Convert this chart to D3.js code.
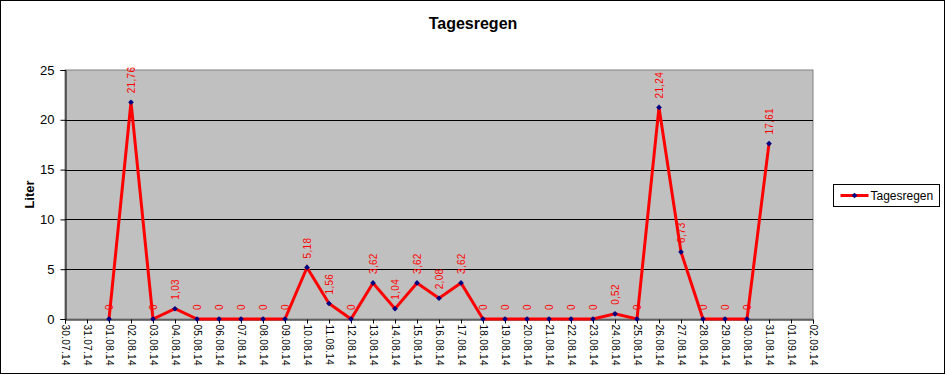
<!DOCTYPE html>
<html lang="de">
<head>
  <meta charset="UTF-8" />
  <title>Tagesregen</title>
  <script src="https://d3js.org/d3.v7.min.js"></script>
  <style>
    body { margin: 0; background: #fff; font-family: Arial, 'Liberation Sans', sans-serif; }
    svg { display: block; }
  </style>
</head>
<body>
<div id="chart"></div>
<script>
// categories: first and last day on the date axis, and the days that have values
const axisStart = "30.07.14";
const axisEnd = "02.09.14";
const days = [
  "01.08.14","02.08.14","03.08.14","04.08.14","05.08.14","06.08.14","07.08.14","08.08.14",
  "09.08.14","10.08.14","11.08.14","12.08.14","13.08.14","14.08.14","15.08.14","16.08.14",
  "17.08.14","18.08.14","19.08.14","20.08.14","21.08.14","22.08.14","23.08.14","24.08.14",
  "25.08.14","26.08.14","27.08.14","28.08.14","29.08.14","30.08.14","31.08.14"
];
const tagesregen = [
  0, 21.76, 0, 1.03, 0, 0, 0, 0,
  0, 5.18, 1.56, 0, 3.62, 1.04, 3.62, 2.08,
  3.62, 0, 0, 0, 0, 0, 0, 0.52,
  0, 21.24, 6.73, 0, 0, 0, 17.61
];
const yTicks = [0, 5, 10, 15, 20, 25];

const W = 946, H = 375;
const m = { left: 65, top: 70, right: 133, bottom: 56 };
const pw = W - m.left - m.right, ph = H - m.top - m.bottom;

const parse = d3.timeParse("%d.%m.%y");
const fmt = d3.timeFormat("%d.%m.%y");
const data = days.map((d, i) => ({ date: parse(d), value: tagesregen[i] }));

const svg = d3.select("#chart").append("svg").attr("width", W).attr("height", H);

svg.append("rect").attr("x", 0.5).attr("y", 0.5).attr("width", W - 2).attr("height", H - 2)
  .attr("fill", "#fff").attr("stroke", "#000").attr("stroke-width", 1);

svg.append("text").attr("x", 473).attr("y", 29).attr("text-anchor", "middle")
  .style("font-size", "16px").style("font-weight", "bold").text("Tagesregen");

const g = svg.append("g").attr("transform", `translate(${m.left},${m.top})`);

const x = d3.scaleTime().domain([parse(axisStart), parse(axisEnd)]).range([0, pw]);
const y = d3.scaleLinear().domain([0, 25]).range([ph, 0]);

g.append("rect").attr("width", pw).attr("height", ph)
  .attr("fill", "#c0c0c0").attr("stroke", "#808080");

// grid
g.selectAll(".grid").data(yTicks.slice(1, -1)).enter().append("line")
  .attr("x1", 0).attr("x2", pw)
  .attr("y1", d => Math.round(y(d)) + 0.5).attr("y2", d => Math.round(y(d)) + 0.5)
  .attr("stroke", "#000");

// y axis
const yAxis = g.append("g").attr("transform", "translate(0.5,0)")
  .call(d3.axisLeft(y).tickValues(yTicks).tickSize(5).tickPadding(6).tickFormat(d3.format("d")));
yAxis.select(".domain").attr("stroke", "#000");
yAxis.selectAll("text").style("font-size", "13px").style("font-family", "Arial, 'Liberation Sans', sans-serif").attr("fill", "#000");

svg.append("text").attr("transform", `translate(34,${m.top + ph / 2}) rotate(-90)`)
  .attr("text-anchor", "middle").style("font-size", "13px").style("font-weight", "bold").text("Liter");

// x axis
const xAxis = g.append("g").attr("transform", `translate(0,${ph + 0.5})`)
  .call(d3.axisBottom(x).ticks(d3.timeDay.every(1)).tickSize(4).tickFormat(fmt));
xAxis.select(".domain").attr("stroke", "#000");
xAxis.selectAll("text")
  .attr("transform", "rotate(90)")
  .attr("x", 5).attr("y", 0).attr("dy", "0.35em")
  .style("text-anchor", "start").style("letter-spacing", "0.3px")
  .style("font-size", "10px").style("font-family", "Arial, 'Liberation Sans', sans-serif").attr("fill", "#000");

// line
const line = d3.line().x(d => x(d.date)).y(d => y(d.value));
g.append("path").datum(data).attr("d", line)
  .attr("fill", "none").attr("stroke", "#ff0000").attr("stroke-width", 3)
  .attr("stroke-linejoin", "miter");

// markers (small square turned 45deg)
const marker = d3.symbol().type(d3.symbolSquare).size(16);
g.selectAll(".pt").data(data).enter().append("path")
  .attr("d", marker)
  .attr("transform", d => `translate(${x(d.date)},${y(d.value)}) rotate(45)`)
  .attr("fill", "#000080");

// value labels
const numFmt = v => (v === 0 ? "0" : d3.format(".2f")(v).replace(".", ","));
g.selectAll(".lbl").data(data).enter().append("text")
  .attr("transform", d => `translate(${x(d.date) + 3.5},${y(d.value) - 9}) rotate(-90)`)
  .style("font-size", "10px").style("letter-spacing", "0.3px").attr("fill", "#ff0000")
  .text(d => numFmt(d.value));

// legend
const lg = svg.append("g").attr("transform", "translate(833.5,184.5)");
lg.append("rect").attr("width", 106).attr("height", 22).attr("fill", "#fff").attr("stroke", "#000");
lg.append("line").attr("x1", 7).attr("x2", 35).attr("y1", 11).attr("y2", 11)
  .attr("stroke", "#ff0000").attr("stroke-width", 3);
lg.append("path").attr("d", marker).attr("transform", "translate(21,11) rotate(45)").attr("fill", "#000080");
lg.append("text").attr("x", 37).attr("y", 15.5).style("font-size", "12px").text("Tagesregen");
</script>
</body>
</html>
